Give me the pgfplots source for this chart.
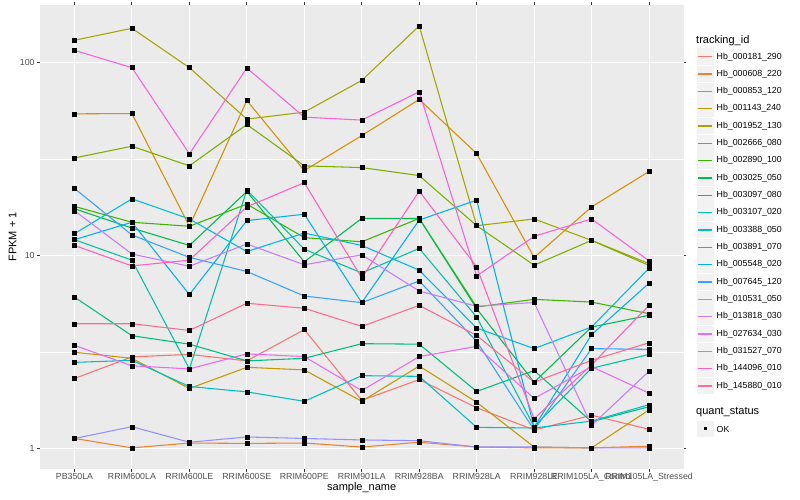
\documentclass[border=0pt]{standalone}
\usepackage{fontspec}
\setmainfont{Liberation Sans}
\usepackage{pgfplots}
\pgfplotsset{compat=1.18}
\usepackage{pgfplotstable}

\definecolor{panel}{HTML}{EBEBEB}
\definecolor{keybg}{HTML}{F2F2F2}
\definecolor{gray30}{HTML}{4D4D4D}
\definecolor{gray20}{HTML}{333333}
\definecolor{s000181}{HTML}{F8766D}
\definecolor{s000608}{HTML}{EA8331}
\definecolor{s000853}{HTML}{D89000}
\definecolor{s001143}{HTML}{C09B00}
\definecolor{s001952}{HTML}{A3A500}
\definecolor{s002666}{HTML}{7CAE00}
\definecolor{s002890}{HTML}{39B600}
\definecolor{s003025}{HTML}{00BB4E}
\definecolor{s003097}{HTML}{00BF7D}
\definecolor{s003107}{HTML}{00C1A3}
\definecolor{s003388}{HTML}{00BFC4}
\definecolor{s003891}{HTML}{00BAE0}
\definecolor{s005548}{HTML}{00B0F6}
\definecolor{s007645}{HTML}{35A2FF}
\definecolor{s010531}{HTML}{9590FF}
\definecolor{s013818}{HTML}{C77CFF}
\definecolor{s027634}{HTML}{E76BF3}
\definecolor{s031527}{HTML}{FA62DB}
\definecolor{s144096}{HTML}{FF62BC}
\definecolor{s145880}{HTML}{FF6C91}

% FPKM + 1 per sample (columns 0..10 = PB350LA ... RRIM105LA_Stressed)
\pgfplotstableread{
x s000181 s000608 s000853 s001143 s001952 s002666 s002890 s003025 s003097 s003107 s003388 s003891 s005548 s007645 s010531 s013818 s027634 s031527 s144096 s145880
0  2.31 1.13  54.3 3.16 130.6 32.1 18.0 17.5 6.10 12.1 2.80 13.0 12.1 22.3 1.13 17.1 3.43 115.8 11.3 4.44
1  2.99 1.01  54.5 2.94 150.7 36.9 14.9 13.9 3.85 9.48 2.87 19.7 14.9 12.8 1.30 10.2 2.69 94.2  8.85 4.44
2  3.08 1.07  14.2 2.05 94.2  29.2 14.2 11.3 3.48 2.59 2.10 15.5 6.29 9.80 1.08 8.81 2.59 33.7  9.48 4.10
3  2.85 1.065 63.7 2.64 51.0  47.8 18.5 21.5 2.85 21.9 1.97 10.5 15.2 8.28 1.15 11.5 3.10 93.8  17.9 5.67
4  4.14 1.07  27.6 2.56 55.4  29.2 12.4 9.29 2.94 10.8 1.76 13.1 16.4 6.18 1.13 8.97 3.00 52.2  23.9 5.34
5  1.78 1.02  41.9 1.76 80.9  28.6 11.8 15.6 3.50 8.14 2.39 11.3 5.71 5.71 1.11 10.1 2.00 50.4  7.67 4.30
6  2.28 1.08  64.5 2.68 155.0 26.0 15.6 15.6 3.48 10.9 2.37 8.41 15.3 7.40 1.10 6.56 3.00 70.7  21.6 5.53
7  1.63 1.02  33.8 1.74 14.3  14.3 5.42 5.31 1.98 4.81 1.29 4.22 19.4 3.60 1.02 5.47 3.39 7.85  8.74 3.86
8  1.25 1.01  9.79 1.02 15.5  8.93 5.94 2.21 2.54 1.30 1.28 3.30 1.29 1.25 1.02 5.72 1.82 12.6  1.43 2.21
9  1.49 1.01  17.9 1.01 12.0  12.0 5.75 4.27 1.38 2.61 1.39 4.27 3.90 3.30 1.01 1.32 2.66 15.5  2.72 2.87
10 1.26 1.03  27.3 1.59 9.1   8.9  5.00 4.91 1.65 3.08 1.69 8.60 7.20 3.27 1.01 2.52 1.94 9.40  5.53 3.54
}\data

\begin{document}
\begin{tikzpicture}[x=1pt,y=1pt]
\useasboundingbox (0,0) rectangle (800,500);
\begin{axis}[
  at={(40pt,31pt)}, anchor=south west,
  width=643.5pt, height=464pt, scale only axis,
  xmin=-0.6, xmax=10.6,
  ymode=log, ymin=0.785, ymax=199,
  axis background/.style={fill=panel},
  axis line style={draw=none},
  xtick={0,...,10},
  xticklabels={PB350LA,RRIM600LA,RRIM600LE,RRIM600SE,RRIM600PE,RRIM901LA,RRIM928BA,RRIM928LA,RRIM928LE,RRIM105LA\_Control,RRIM105LA\_Stressed},
  ytick={1,10,100}, yticklabels={1,10,100},
  minor ytick={3.1623,31.623},
  xmajorgrids, ymajorgrids, yminorgrids,
  major grid style={white, line width=1.07pt},
  minor grid style={white, line width=0.53pt},
  tick align=outside, major tick length=2.75pt, minor tick length=0pt,
  tick style={gray20, line width=1.07pt},
  ticklabel style={font=\fontsize{8.8}{10}\selectfont, text=gray30},
  xticklabel style={inner sep=1pt, yshift=0pt},
  yticklabel style={inner sep=1pt, xshift=-1.5pt},
]
\pgfplotsinvokeforeach{s000181,s000608,s000853,s001143,s001952,s002666,s002890,s003025,s003097,s003107,s003388,s003891,s005548,s007645,s010531,s013818,s027634,s031527,s144096,s145880}{
  \addplot[color=#1, line width=1.07pt, no markers] table[x=x, y=#1] {\data};
}
\pgfplotsinvokeforeach{s000181,s000608,s000853,s001143,s001952,s002666,s002890,s003025,s003097,s003107,s003388,s003891,s005548,s007645,s010531,s013818,s027634,s031527,s144096,s145880}{
  \addplot[only marks, mark=square*, mark size=2pt, black] table[x=x, y=#1] {\data};
}
\end{axis}

% axis titles
\node[rotate=90, font=\fontsize{11}{12}\selectfont] at (12.5,263) {FPKM + 1};
\node[font=\fontsize{11}{12}\selectfont] at (361.7,12) {sample\_name};

% legend
\node[anchor=west, inner sep=0pt, font=\fontsize{11}{12}\selectfont] at (696,459.3) {tracking\_id};
\foreach \c [count=\i from 0] in {000181_290,000608_220,000853_120,001143_240,001952_130,002666_080,002890_100,003025_050,003097_080,003107_020,003388_050,003891_070,005548_020,007645_120,010531_050,013818_030,027634_030,031527_070,144096_010,145880_010}{
  \pgfmathsetmacro\yy{500-56.7-17.33*\i}
  \fill[keybg] (696.5,\yy-8.2) rectangle (713.5,\yy+8.2);
}
\foreach \c/\n [count=\i from 0] in {s000181/000181\_290,s000608/000608\_220,s000853/000853\_120,s001143/001143\_240,s001952/001952\_130,s002666/002666\_080,s002890/002890\_100,s003025/003025\_050,s003097/003097\_080,s003107/003107\_020,s003388/003388\_050,s003891/003891\_070,s005548/005548\_020,s007645/007645\_120,s010531/010531\_050,s013818/013818\_030,s027634/027634\_030,s031527/031527\_070,s144096/144096\_010,s145880/145880\_010}{
  \pgfmathsetmacro\yy{500-56.7-17.33*\i}
  \draw[\c, line width=1.07pt] (698.2,\yy) -- (711.8,\yy);
  \node[anchor=west, inner sep=0pt, font=\fontsize{8.8}{10}\selectfont] at (716.5,\yy) {Hb\_\n};
}
\node[anchor=west, inner sep=0pt, font=\fontsize{11}{12}\selectfont] at (696,87.7) {quant\_status};
\fill[keybg] (696.5,71-8.2) rectangle (713.5,71+8.2);
\fill[black] (703.5,69.5) rectangle (706.5,72.5);
\node[anchor=west, inner sep=0pt, font=\fontsize{8.8}{10}\selectfont] at (716.5,71) {OK};
\end{tikzpicture}
\end{document}
